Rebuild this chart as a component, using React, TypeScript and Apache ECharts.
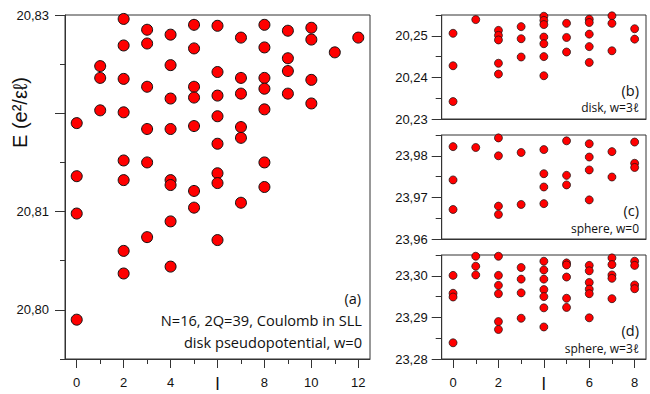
import React, { useEffect, useRef } from "react";
import * as echarts from "echarts";

// Panel (a): disk pseudopotential, w=0  — [l, E]
const panelA: [number, number][] = [
  [0, 20.819], [0, 20.8136], [0, 20.8098], [0, 20.799],
  [1, 20.8248], [1, 20.8236], [1, 20.8203],
  [2, 20.8296], [2, 20.8269], [2, 20.8235], [2, 20.8201], [2, 20.8152], [2, 20.8132], [2, 20.806], [2, 20.8037],
  [3, 20.8285], [3, 20.8271], [3, 20.8227], [3, 20.8184], [3, 20.815], [3, 20.8074],
  [4, 20.828], [4, 20.8249], [4, 20.8215], [4, 20.8184], [4, 20.8132], [4, 20.8127], [4, 20.809], [4, 20.8044],
  [5, 20.829], [5, 20.8266], [5, 20.8227], [5, 20.8216], [5, 20.8187], [5, 20.8121], [5, 20.8104],
  [6, 20.8289], [6, 20.8242], [6, 20.8218], [6, 20.8197], [6, 20.8169], [6, 20.8139], [6, 20.8129], [6, 20.8071],
  [7, 20.8277], [7, 20.8236], [7, 20.822], [7, 20.8186], [7, 20.8175], [7, 20.8109],
  [8, 20.829], [8, 20.8267], [8, 20.8236], [8, 20.8225], [8, 20.8204], [8, 20.815], [8, 20.8125],
  [9, 20.8284], [9, 20.8256], [9, 20.8243], [9, 20.822],
  [10, 20.8287], [10, 20.8275], [10, 20.8234], [10, 20.821],
  [11, 20.8262],
  [12, 20.8277],
];

// Panel (b): disk, w=3l
const panelB: [number, number][] = [
  [0, 20.2506], [0, 20.2428], [0, 20.2342],
  [1, 20.2539],
  [2, 20.2513], [2, 20.2501], [2, 20.249], [2, 20.2434], [2, 20.2408],
  [3, 20.2522], [3, 20.2493], [3, 20.2449],
  [4, 20.2547], [4, 20.2537], [4, 20.2527], [4, 20.2497], [4, 20.2481], [4, 20.245], [4, 20.2404],
  [5, 20.253], [5, 20.2496], [5, 20.2461],
  [6, 20.254], [6, 20.2532], [6, 20.2504], [6, 20.2474], [6, 20.2436],
  [7, 20.2548], [7, 20.253], [7, 20.2464],
  [8, 20.2517], [8, 20.2492],
];

// Panel (c): sphere, w=0
const panelC: [number, number][] = [
  [0, 23.9822], [0, 23.9742], [0, 23.9671],
  [1, 23.982],
  [2, 23.9843], [2, 23.98], [2, 23.9679], [2, 23.9659],
  [3, 23.9808], [3, 23.9683],
  [4, 23.9815], [4, 23.9757], [4, 23.9725], [4, 23.9685],
  [5, 23.9836], [5, 23.9753], [5, 23.973],
  [6, 23.9829], [6, 23.9797], [6, 23.9766], [6, 23.9694],
  [7, 23.981], [7, 23.9749],
  [8, 23.9833], [8, 23.9782], [8, 23.9772],
];

// Panel (d): sphere, w=3l
const panelD: [number, number][] = [
  [0, 23.3001], [0, 23.2958], [0, 23.2949], [0, 23.2839],
  [1, 23.3047], [1, 23.3023], [1, 23.3002],
  [2, 23.3047], [2, 23.3001], [2, 23.2977], [2, 23.2957], [2, 23.289], [2, 23.2871],
  [3, 23.302], [3, 23.2992], [3, 23.2959], [3, 23.2898],
  [4, 23.3035], [4, 23.3014], [4, 23.2992], [4, 23.2967], [4, 23.295], [4, 23.2923], [4, 23.2877],
  [5, 23.3031], [5, 23.3026], [5, 23.2997], [5, 23.2946], [5, 23.2924],
  [6, 23.3025], [6, 23.3012], [6, 23.2984], [6, 23.2968], [6, 23.2957], [6, 23.2899],
  [7, 23.3043], [7, 23.3027], [7, 23.3002], [7, 23.2994], [7, 23.2945],
  [8, 23.3035], [8, 23.3025], [8, 23.2978], [8, 23.2969],
];

// Tick values / labels
const mainXMajor = [0, 2, 4, 6, 8, 10, 12];
const mainXMinor = [1, 3, 5, 7, 9, 11];
const mainXLabels = [0, 2, 4, 8, 10, 12];
const mainYMajor = [20.8, 20.81, 20.82, 20.83];
const mainYMinor = [20.795, 20.805, 20.815, 20.825];
const mainYLabels = [20.8, 20.81, 20.83];

const sideXMajor = [0, 2, 4, 6, 8];
const sideXMinor = [1, 3, 5, 7];
const sideXLabels = [0, 2, 6, 8];
const bYMajor = [20.23, 20.24, 20.25];
const bYMinor = [20.235, 20.245, 20.255];
const cYMajor = [23.96, 23.97, 23.98];
const cYMinor = [23.965, 23.975, 23.985];
const dYMajor = [23.28, 23.29, 23.3];
const dYMinor = [23.285, 23.295, 23.305];

const AX = "#333";
const TICK_FONT = "Liberation Sans";
const NOTE_FONT = "Open Sans";

function fmt(v: number) {
  return v.toFixed(2).replace(".", ",");
}

export default function App() {
  const ref = useRef<HTMLDivElement>(null);

  useEffect(() => {
    if (!ref.current) return;
    const chart = echarts.init(ref.current, undefined, { renderer: "svg" });

    const grids = [
      { left: 65, top: 15, width: 305, height: 344 },
      { left: 441.7, top: 15, width: 204.3, height: 104 },
      { left: 441.7, top: 135, width: 204.3, height: 104 },
      { left: 441.7, top: 255, width: 204.3, height: 104 },
    ].map((g) => ({
      ...g,
      show: true,
      borderColor: AX,
      borderWidth: 1,
      backgroundColor: "transparent",
      containLabel: false,
      outerBoundsMode: "none",
    }));

    const xMajor = (grid: number, min: number, max: number, ticks: number[] | null, labels: number[] | null, withName: boolean) => ({
      gridIndex: grid,
      type: "value",
      min,
      max,
      position: "bottom",
      axisLine: { show: true, onZero: false, lineStyle: { color: AX, width: 1 } },
      axisTick: ticks ? { show: true, customValues: ticks, length: 9, lineStyle: { color: AX, width: 1 } } : { show: false },
      axisLabel: labels
        ? { show: true, customValues: labels, margin: 17, fontSize: 13, color: "#111", fontFamily: TICK_FONT, formatter: (v: number) => String(Math.round(v)) }
        : { show: false },
      splitLine: { show: false },
      name: withName ? "l" : "",
      nameLocation: "middle",
      nameGap: 16,
      nameMoveOverlap: false,
      nameTextStyle: { fontSize: 18, color: "#111", fontFamily: TICK_FONT, verticalAlign: "top" },
    });
    const xMinor = (grid: number, min: number, max: number, ticks: number[] | null) => ({
      gridIndex: grid,
      type: "value",
      min,
      max,
      position: "bottom",
      axisLine: { show: false, onZero: false },
      axisTick: ticks ? { show: true, customValues: ticks, length: 5, lineStyle: { color: AX, width: 1 } } : { show: false },
      axisLabel: { show: false },
      splitLine: { show: false },
    });
    const yMajor = (grid: number, min: number, max: number, ticks: number[], labels: number[], len: number, margin: number) => ({
      gridIndex: grid,
      type: "value",
      min,
      max,
      position: "left",
      axisLine: { show: true, onZero: false, lineStyle: { color: AX, width: 1 } },
      axisTick: { show: true, customValues: ticks, length: len, lineStyle: { color: AX, width: 1 } },
      axisLabel: { show: true, customValues: labels, margin, fontSize: 13, color: "#111", fontFamily: TICK_FONT, formatter: (v: number) => fmt(v) },
      splitLine: { show: false },
    });
    const yMinor = (grid: number, min: number, max: number, ticks: number[], len: number) => ({
      gridIndex: grid,
      type: "value",
      min,
      max,
      position: "left",
      axisLine: { show: false, onZero: false },
      axisTick: { show: true, customValues: ticks, length: len, lineStyle: { color: AX, width: 1 } },
      axisLabel: { show: false },
      splitLine: { show: false },
    });

    const xAxis = [
      xMajor(0, -0.5, 12.5, mainXMajor, mainXLabels, true),
      xMinor(0, -0.5, 12.5, mainXMinor),
      xMajor(1, -0.5, 8.5, null, null, false),
      xMinor(1, -0.5, 8.5, null),
      xMajor(2, -0.5, 8.5, null, null, false),
      xMinor(2, -0.5, 8.5, null),
      xMajor(3, -0.5, 8.5, sideXMajor, sideXLabels, true),
      xMinor(3, -0.5, 8.5, sideXMinor),
    ];
    const yAxis = [
      yMajor(0, 20.795, 20.83, mainYMajor, mainYLabels, 10, 16),
      yMinor(0, 20.795, 20.83, mainYMinor, 5),
      yMajor(1, 20.23, 20.255, bYMajor, bYMajor, 10, 14),
      yMinor(1, 20.23, 20.255, bYMinor, 6),
      yMajor(2, 23.96, 23.985, cYMajor, cYMajor, 10, 14),
      yMinor(2, 23.96, 23.985, cYMinor, 6),
      yMajor(3, 23.28, 23.305, dYMajor, dYMajor, 10, 14),
      yMinor(3, 23.28, 23.305, dYMinor, 6),
    ];

    const sc = (data: [number, number][], axisIdx: number, size: number, bw: number) => ({
      type: "scatter",
      xAxisIndex: axisIdx,
      yAxisIndex: axisIdx,
      data,
      symbol: "circle",
      symbolSize: size,
      itemStyle: { color: "#ff0000", borderColor: "#111", borderWidth: bw, opacity: 1 },
      emphasis: { disabled: true },
      z: 3,
    });

    const note = (text: string, x: number, y: number, size: number) => ({
      type: "text",
      x,
      y,
      z: 10,
      style: {
        text,
        align: "right",
        textAlign: "right",
        verticalAlign: "middle",
        textVerticalAlign: "middle",
        fontSize: size,
        fontFamily: NOTE_FONT,
        fill: "#111",
      },
    });

    chart.setOption({
      animation: false,
      backgroundColor: "#fff",
      grid: grids,
      xAxis,
      yAxis,
      series: [sc(panelA, 0, 11, 1), sc(panelB, 2, 8, 0.7), sc(panelC, 4, 8, 0.7), sc(panelD, 6, 8, 0.7)],
      graphic: [
        {
          type: "text",
          x: 20,
          y: 112.5,
          rotation: Math.PI / 2,
          z: 10,
          style: {
            text: "E (e²/εℓ)",
            align: "center",
            textAlign: "center",
            verticalAlign: "middle",
            textVerticalAlign: "middle",
            fontSize: 20,
            fontFamily: TICK_FONT,
            fill: "#111",
          },
        },
        note("(a)", 361, 298, 14.5),
        note("N=16, 2Q=39, Coulomb in SLL", 362, 320, 14.6),
        note("disk pseudopotential, w=0", 362, 342, 14.6),
        note("(b)", 639, 90, 14.5),
        note("disk, w=3ℓ", 639, 107, 12),
        note("(c)", 639, 210, 14.5),
        note("sphere, w=0", 639, 228, 12),
        note("(d)", 639, 330, 14.5),
        note("sphere, w=3ℓ", 639, 348, 12),
      ],
    });

    return () => chart.dispose();
  }, []);

  return <div ref={ref} style={{ position: "fixed", left: 0, top: 0, width: 650, height: 394 }} />;
}
